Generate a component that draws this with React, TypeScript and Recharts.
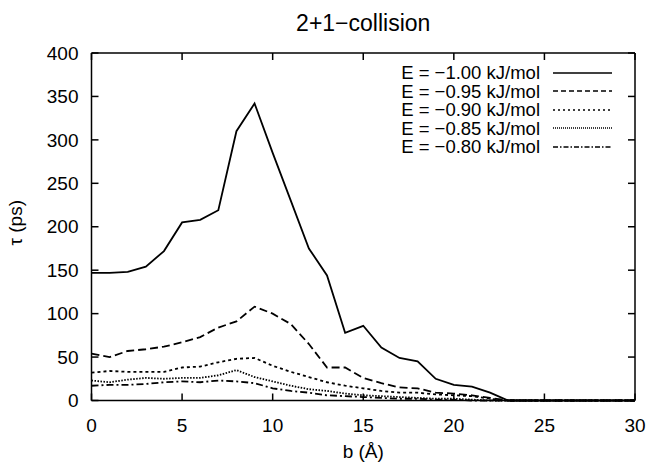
import React from 'react';
import { LineChart, Line, XAxis, YAxis, Legend, ReferenceLine } from 'recharts';

// impact parameter b (Å)
const B = [0, 1, 2, 3, 4, 5, 6, 7, 8, 9, 10, 11, 12, 13, 14, 15, 16, 17, 18, 19, 20, 21, 22, 23, 24, 25, 26, 27, 28, 29, 30];

// lifetimes tau (ps), one list per energy
const E100 = [147, 147, 148, 154, 172, 205, 208, 219, 310, 342, 285, 230, 175, 144, 78, 86, 61, 49, 45, 25, 18, 16, 9, 0, 0, 0, 0, 0, 0, 0, 0];
const E095 = [54, 50, 57, 59, 62, 67, 73, 84, 91, 108, 100, 88, 65, 38, 38, 26, 20, 15, 14, 9, 8, 6, 3, 0, 0, 0, 0, 0, 0, 0, 0];
const E090 = [32, 34, 33, 33, 33, 38, 39, 44, 48, 49, 40, 33, 27, 21, 17, 14, 11, 9, 9, 7, 6, 5, 2, 0, 0, 0, 0, 0, 0, 0, 0];
const E085 = [23, 21, 24, 26, 25, 26, 26, 29, 35, 27, 22, 17, 13, 11, 8, 6, 5, 4, 3, 2, 2, 1, 0, 0, 0, 0, 0, 0, 0, 0, 0];
const E080 = [17, 18, 18, 19, 21, 22, 21, 23, 22, 20, 14, 11, 9, 6, 5, 4, 3, 2, 2, 1, 1, 0, 0, 0, 0, 0, 0, 0, 0, 0, 0];

const X_TICKS = [0, 5, 10, 15, 20, 25, 30];
const Y_TICKS = [0, 50, 100, 150, 200, 250, 300, 350, 400];

const SERIES = [
  { key: 'e100', name: 'E = \u22121.00 kJ/mol', values: E100, dash: undefined, legendDash: undefined },
  { key: 'e095', name: 'E = \u22120.95 kJ/mol', values: E095, dash: '8 4', legendDash: '5 3' },
  { key: 'e090', name: 'E = \u22120.90 kJ/mol', values: E090, dash: '3 3', legendDash: '2 3' },
  { key: 'e085', name: 'E = \u22120.85 kJ/mol', values: E085, dash: '1.5 1.5', legendDash: '1 1' },
  { key: 'e080', name: 'E = \u22120.80 kJ/mol', values: E080, dash: '7 3 2 3', legendDash: '5 2 1.5 2' },
];

const data = B.map((b, i) => {
  const row: Record<string, number> = { b };
  SERIES.forEach(s => { row[s.key] = s.values[i]; });
  return row;
});

const W = 649;
const H = 463;
const MARGIN = { top: 53, right: 14, bottom: 0, left: 0 };
const XAXIS_H = 62.5;
const YAXIS_W = 91.5;
// plot frame edges, derived from the layout above
const PLOT_TOP = MARGIN.top;
const PLOT_BOTTOM = H - MARGIN.bottom - XAXIS_H;
const PLOT_LEFT = MARGIN.left + YAXIS_W;
const PLOT_RIGHT = W - MARGIN.right;
const TICK_LEN = 7;

const FONT = '"Liberation Sans", Arial, Helvetica, sans-serif';
const frame = { stroke: '#000', strokeWidth: 1.5 };

// tick label plus gnuplot-style inward ticks on bottom and top
const XTick = (props: any) => {
  const { x, y, payload } = props;
  return (
    <g>
      <text x={x} y={y} dy="0.71em" textAnchor="middle" fill="#000" fontSize={19} fontFamily={FONT}>{payload.value}</text>
      <line x1={x} x2={x} y1={PLOT_BOTTOM} y2={PLOT_BOTTOM - TICK_LEN} {...frame} />
      <line x1={x} x2={x} y1={PLOT_TOP} y2={PLOT_TOP + TICK_LEN} {...frame} />
    </g>
  );
};

const YTick = (props: any) => {
  const { x, y, payload } = props;
  return (
    <g>
      <text x={x} y={y} dy="0.355em" textAnchor="end" fill="#000" fontSize={19} fontFamily={FONT}>{payload.value}</text>
      <line x1={PLOT_LEFT} x2={PLOT_LEFT + TICK_LEN} y1={y} y2={y} {...frame} />
      <line x1={PLOT_RIGHT} x2={PLOT_RIGHT - TICK_LEN} y1={y} y2={y} {...frame} />
    </g>
  );
};

const LegendBox = (props: any) => {
  const payload = props.payload || [];
  // keep the plotting order, not the sorted one
  const rows = SERIES.filter(s => payload.some((p: any) => p.value === s.name));
  return (
    <div style={{ fontFamily: FONT, fontSize: 18.5, color: '#000' }}>
      {rows.map(s => (
        <div key={s.key} style={{ display: 'flex', alignItems: 'center', height: 18.5, lineHeight: '17px' }}>
          <span style={{ width: 160, textAlign: 'right', whiteSpace: 'nowrap' }}>{s.name}</span>
          <svg width={62} height={10} style={{ marginLeft: 13 }}>
            <line x1={0} y1={5} x2={59} y2={5} stroke="#000" strokeWidth={1.5} strokeDasharray={s.legendDash} />
          </svg>
        </div>
      ))}
    </div>
  );
};

const YLabel = (props: any) => {
  const vb = props.viewBox || { x: 0, y: 0, width: 0, height: 0 };
  const cx = vb.x + 15;
  const cy = vb.y + vb.height / 2 - 4;
  return (
    <text x={cx} y={cy} transform={`rotate(-90, ${cx}, ${cy})`} textAnchor="middle" dominantBaseline="central"
      fill="#000" fontSize={19} fontFamily={FONT}>
      τ (ps)
    </text>
  );
};

export default function App() {
  return (
    <div style={{ position: 'absolute', left: 0, top: 0, width: W, height: H, background: '#fff' }}>
      <div style={{
        position: 'absolute', left: PLOT_LEFT, width: PLOT_RIGHT - PLOT_LEFT, top: 8, textAlign: 'center',
        fontFamily: FONT, fontSize: 23, lineHeight: '30px', color: '#000',
      }}>
        2+1−collision
      </div>
      <LineChart width={W} height={H} data={data} margin={MARGIN}>
        <XAxis dataKey="b" type="number" domain={[0, 30]} ticks={X_TICKS} height={XAXIS_H}
          axisLine={frame} tickLine={false} tickSize={0} tickMargin={18}
          tick={XTick} interval={0}
          label={{ value: 'b (Å)', position: 'insideBottom', offset: 5, fill: '#000', fontSize: 19, fontFamily: FONT }} />
        <YAxis type="number" domain={[0, 400]} ticks={Y_TICKS} width={YAXIS_W}
          axisLine={frame} tickLine={false} tickSize={0} tickMargin={13}
          tick={YTick} interval={0} label={{ content: YLabel }} />
        <ReferenceLine y={400} stroke="#000" strokeWidth={1.5} />
        <ReferenceLine x={30} stroke="#000" strokeWidth={1.5} />
        <Legend layout="vertical" align="center" verticalAlign="middle" content={LegendBox}
          wrapperStyle={{ top: 63.5, left: 380, width: 240, height: 95 }} />
        {SERIES.map(s => (
          <Line key={s.key} dataKey={s.key} name={s.name} type="linear" stroke="#000" strokeWidth={1.8}
            strokeDasharray={s.dash} dot={false} activeDot={false} isAnimationActive={false} />
        ))}
      </LineChart>
    </div>
  );
}
